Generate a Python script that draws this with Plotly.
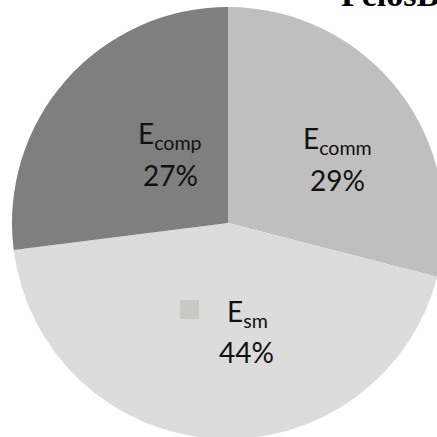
import plotly.graph_objects as go

# Energy breakdown shares (percent)
names = ["comm", "sm", "comp"]
shares = [29, 44, 27]
slice_colors = ["#bfbfbf", "#dcdcdc", "#7f7f7f"]
title_text = "PelosB"

# the figure is a little larger than the visible frame so the pie can run off the right edge
W, H = 446, 441
CX, CY, R = 228, 223, 216

fig = go.Figure(
    go.Pie(
        labels=["E" + n for n in names],
        values=shares,
        sort=False,
        direction="clockwise",
        rotation=0,
        marker=dict(colors=slice_colors, line=dict(width=0)),
        textinfo="none",
        hoverinfo="label+percent",
        showlegend=False,
        domain=dict(x=[(CX - R) / W, (CX + R) / W], y=[1 - (CY + R) / H, 1 - (CY - R) / H]),
    )
)

def px(x, y):
    return x / W, 1 - y / H

# label anchor points (pixel centres) for name and percentage lines
name_pos = {"comm": (337, 140), "sm": (247, 313), "comp": (170, 135)}
pct_pos = {"comm": (337, 180), "sm": (246, 352), "comp": (170, 175)}

font = dict(family="Lato, Carlito, sans-serif", size=28, color="#111111")
annotations = []
for n, v in zip(names, shares):
    x, y = px(*name_pos[n])
    annotations.append(dict(
        x=x, y=y, xref="paper", yref="paper", xanchor="center", yanchor="middle",
        text=f"E<sub>{n}</sub>", showarrow=False, font=font,
    ))
    x, y = px(*pct_pos[n])
    annotations.append(dict(
        x=x, y=y, xref="paper", yref="paper", xanchor="center", yanchor="middle",
        text=f"{v}%", showarrow=False, font=font,
    ))

# chart title, mostly above the top edge
tx, ty = px(339, 15.5)
annotations.append(dict(
    x=tx, y=ty, xref="paper", yref="paper", xanchor="left", yanchor="bottom",
    text=f"<b>{title_text}</b>", showarrow=False,
    font=dict(family="Liberation Serif, Times New Roman, serif", size=34, color="#000000"),
))

# small legend key swatch
x0, y1 = px(180, 300)
x1, y0 = px(199, 319)
shapes = [dict(type="rect", xref="paper", yref="paper", x0=x0, x1=x1, y0=y0, y1=y1,
               fillcolor="#c8c8c5", line=dict(width=0), layer="above")]

fig.update_layout(
    width=W, height=H,
    margin=dict(l=0, r=0, t=0, b=0),
    paper_bgcolor="white", plot_bgcolor="white",
    annotations=annotations, shapes=shapes,
)

fig.write_html(
    "out.html",
    post_script="document.documentElement.style.overflow='hidden';"
                "document.body.style.overflow='hidden';document.body.style.margin='0';",
)
